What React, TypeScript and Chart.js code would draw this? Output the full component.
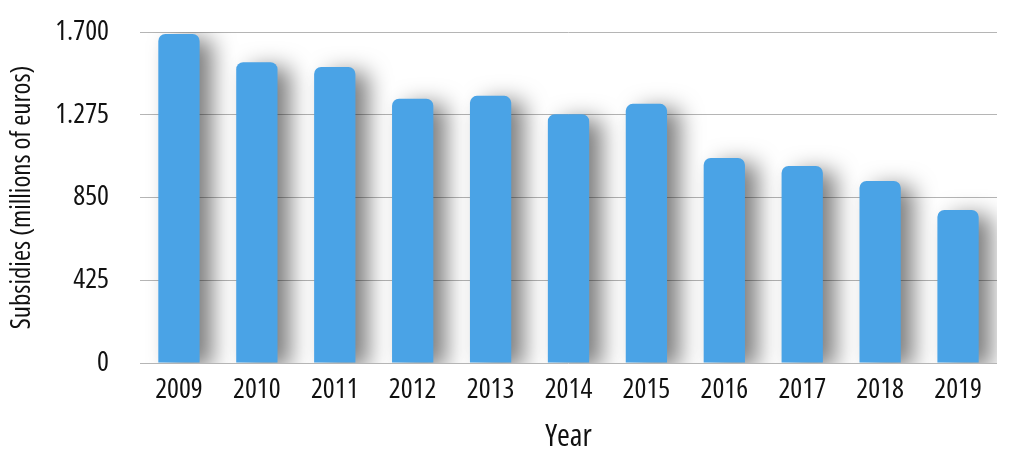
import React, { useEffect, useRef } from "react";
import { Chart, registerables } from "chart.js";

Chart.register(...registerables);

const years = ["2009", "2010", "2011", "2012", "2013", "2014", "2015", "2016", "2017", "2018", "2019"];
const subsidies = [1690, 1545, 1520, 1357, 1372, 1278, 1331, 1053, 1012, 935, 786];
const yTickValues = [0, 425, 850, 1275, 1700];
const yTickLabels = ["0", "425", "850", "1.275", "1.700"];
const yTitle = "Subsidies (millions of euros)";
const xTitle = "Year";

const FONT = "'Open Sans', 'DejaVu Sans Condensed', sans-serif";
const WEIGHT = "500 condensed";

const shadowPlugin = {
  id: "barShadow",
  beforeDatasetsDraw(chart: any) {
    const ctx = chart.ctx;
    ctx.save();
    ctx.shadowColor = "rgba(0,0,0,0.5)";
    ctx.shadowBlur = 22;
    ctx.shadowOffsetX = 13;
    ctx.shadowOffsetY = 5;
  },
  afterDatasetsDraw(chart: any) {
    chart.ctx.restore();
  },
};

export default function App() {
  const ref = useRef<HTMLCanvasElement | null>(null);
  useEffect(() => {
    if (!ref.current) return;
    const chart = new Chart(ref.current, {
      type: "bar",
      data: {
        labels: years,
        datasets: [
          {
            data: subsidies,
            backgroundColor: "#4aa3e6",
            borderWidth: 0,
            borderRadius: 7,
            borderSkipped: "start",
            barPercentage: 0.53,
            categoryPercentage: 1,
          },
        ],
      },
      plugins: [shadowPlugin],
      options: {
        animation: false,
        responsive: false,
        maintainAspectRatio: false,
        layout: { padding: { left: 0, right: 25, top: 32, bottom: 0 } },
        plugins: { legend: { display: false }, tooltip: { enabled: false } },
        scales: {
          x: {
            grid: { display: false, drawTicks: false },
            border: { display: false },
            ticks: { color: "#111", font: { family: FONT, size: 28, weight: WEIGHT }, padding: 10, maxRotation: 0 },
            title: { display: true, text: xTitle, color: "#111", font: { family: FONT, size: 31, weight: WEIGHT }, padding: { top: 0, bottom: 5 } },
            afterFit(scale: any) {
              scale.height = 98;
            },
          },
          y: {
            min: 0,
            max: 1700,
            afterBuildTicks(scale: any) {
              scale.ticks = yTickValues.map((v) => ({ value: v }));
            },
            grid: { color: "#b5b5b5", lineWidth: 1, drawTicks: true, tickLength: 31, tickColor: "rgba(0,0,0,0)" },
            border: { display: false },
            ticks: {
              color: "#111",
              font: { family: FONT, size: 28, weight: WEIGHT },
              padding: 0,
              callback: (v: any) => {
                const i = yTickValues.indexOf(Number(v));
                return i >= 0 ? yTickLabels[i] : "";
              },
            },
            title: { display: true, text: yTitle, color: "#111", font: { family: FONT, size: 27, weight: WEIGHT }, padding: { top: 6, bottom: 0 } },
            afterFit(scale: any) {
              scale.width = 140;
            },
          },
        },
      },
    });
    return () => chart.destroy();
  }, []);
  return (
    <div style={{ position: "fixed", left: 0, top: 0, width: 1022, height: 461, background: "#fff" }}>
      <canvas ref={ref} width={1022} height={461} style={{ width: 1022, height: 461, display: "block" }} />
    </div>
  );
}
